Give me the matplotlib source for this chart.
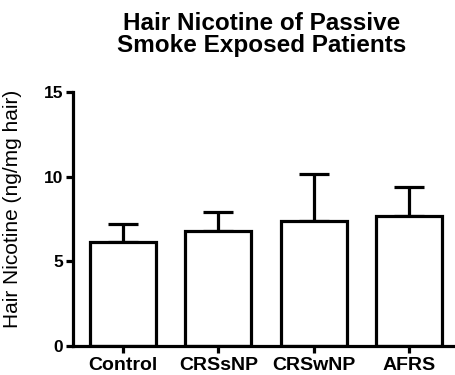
import matplotlib
matplotlib.use("Agg")
import matplotlib.pyplot as plt

groups = ["Control", "CRSsNP", "CRSwNP", "AFRS"]
means = [6.15, 6.77, 7.39, 7.65]
sem = [1.07, 1.13, 2.77, 1.73]
yticks = [0, 5, 10, 15]

plt.rcParams["font.family"] = ["Liberation Sans", "DejaVu Sans"]

fig = plt.figure(figsize=(4.56, 3.75), dpi=100)
ax = fig.add_axes([0.160, 0.0773, 0.840, 0.6774])

lw = 2.3
x = list(range(len(groups)))
ax.bar(x, means, width=0.69, color="white", edgecolor="black", linewidth=lw, zorder=2)
ax.errorbar(x, means, yerr=[[0] * len(sem), sem], fmt="none", ecolor="black",
            elinewidth=lw, capsize=10.5, capthick=lw, zorder=1)

ax.set_xlim(-0.524, 3.49)
ax.set_ylim(0, 15)
ax.set_yticks(yticks)
ax.set_xticks(x)
ax.set_xticklabels(groups, fontsize=14, fontweight="bold")
ax.set_yticklabels([str(t) for t in yticks], fontsize=12.5, fontweight="bold")

for side in ("top", "right"):
    ax.spines[side].set_visible(False)
for side in ("left", "bottom"):
    ax.spines[side].set_linewidth(lw)
ax.tick_params(axis="both", width=lw, length=5, direction="out")
ax.tick_params(axis="y", pad=2)
ax.tick_params(axis="x", pad=3)

ax.set_ylabel("Hair Nicotine (ng/mg hair)", fontsize=15)
ax.yaxis.set_label_coords(-0.133, 0.539)

fig.text(0.574, 0.907, "Hair Nicotine of Passive\nSmoke Exposed Patients",
         ha="center", va="center", fontsize=17.5, fontweight="bold", linespacing=0.95)

fig.savefig("out.png", dpi=100)
